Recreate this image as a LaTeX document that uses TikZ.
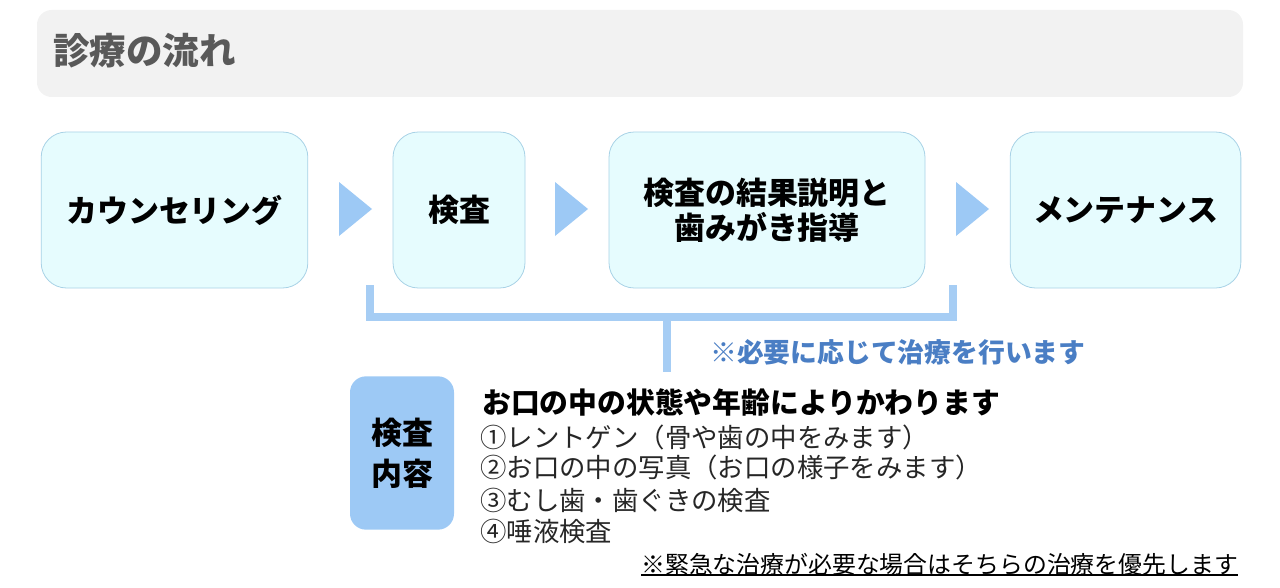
\documentclass[tikz,border=0pt]{standalone}
\usepackage{fontspec}
\setmainfont{Noto Sans CJK JP}
\newfontfamily\jp{Noto Sans CJK JP}
\usetikzlibrary{positioning}
\definecolor{titlebg}{HTML}{F2F2F2}
\definecolor{titlefg}{HTML}{595959}
\definecolor{boxfill}{HTML}{E6FCFE}
\definecolor{boxline}{HTML}{A8D2E6}
\definecolor{arrowc}{HTML}{9DC9F5}
\definecolor{bracketc}{HTML}{A6CDF4}
\definecolor{notec}{HTML}{4A7EC4}
\definecolor{listc}{HTML}{262626}
\tikzset{
  px/.style={x=0.75pt,y=-0.75pt},
  flowbox/.style={draw=boxline,line width=0.6pt,fill=boxfill,rounded corners=19pt,
    minimum height=117pt,inner sep=0pt,align=center,
    font=\jp\bfseries\fontsize{23.2pt}{26pt}\selectfont},
  tri/.style={fill=arrowc,draw=none},
  brk/.style={draw=bracketc,line width=6.5pt},
  listline/.style={anchor=west,inner sep=0pt,text=listc,font=\jp\fontsize{19.8pt}{22pt}\selectfont},
}
\begin{document}
\begin{tikzpicture}[px]
\useasboundingbox (0,0) rectangle (1280,588);
% title bar
\fill[titlebg,rounded corners=11pt] (37,10) rectangle (1243,97);
\node[anchor=west,inner sep=0pt,text=titlefg,font=\jp\bfseries\fontsize{27.4pt}{30pt}\selectfont] (title) at (53,51) {診療の流れ};
% flow boxes
\node[flowbox,minimum width=200pt] (b1) at (174.5,210) {カウンセリング};
\node[flowbox,minimum width=99pt] (b2) at (459,210) {検査};
\node[flowbox,minimum width=237pt,font=\jp\bfseries\fontsize{23.2pt}{26.2pt}\selectfont] (b3) at (767,210) {検査の結果説明と\\歯みがき指導};
\node[flowbox,minimum width=173pt] (b4) at (1125.5,210) {メンテナンス};
% triangles
\fill[tri] (339,182) -- (372,209) -- (339,236) -- cycle;
\fill[tri] (555,182) -- (588,209) -- (555,236) -- cycle;
\fill[tri] (956,182) -- (989,209) -- (956,236) -- cycle;
% bracket
\coordinate (bl) at (370,285);
\coordinate (blc) at (370,317);
\coordinate (brc) at (953,317);
\coordinate (br) at (953,285);
\coordinate (sm) at (667,317);
\coordinate (se) at (667,372);
\draw[brk] (bl) -- (blc) -- (brc) -- (br);
\draw[brk] (sm) -- (se);
\node[anchor=west,inner sep=0pt,text=notec,font=\jp\bfseries\fontsize{20.1pt}{22pt}\selectfont] (note) at (710,352) {※必要に応じて治療を行います};
% inspection box
\node[fill=arrowc,rounded corners=12pt,minimum width=78pt,minimum height=115pt,inner sep=0pt,align=center,
  font=\jp\bfseries\fontsize{23.2pt}{30.5pt}\selectfont] (insp) at (402,453) {検査\\内容};
% list
\node[anchor=west,inner sep=0pt,text=black,font=\jp\bfseries\fontsize{21.6pt}{23pt}\selectfont] (head) at (482,402) {お口の中の状態や年齢によりかわります};
\node[listline] (l1) at (480,437) {①レントゲン（骨や歯の中をみます）};
\node[listline] (l2) at (480,467) {②お口の中の写真（お口の様子をみます）};
\node[listline] (l3) at (480,500) {③むし歯・歯ぐきの検査};
\node[listline] (l4) at (480,531) {④唾液検査};
% footnote
\node[anchor=west,inner sep=0pt,text=black,font=\jp\fontsize{17.9pt}{20pt}\selectfont] (foot) at (641,564) {※緊急な治療が必要な場合はそちらの治療を優先します};
\draw[black,line width=0.9pt] (foot.west |- 0,575) -- (foot.east |- 0,575);
\end{tikzpicture}
\end{document}
